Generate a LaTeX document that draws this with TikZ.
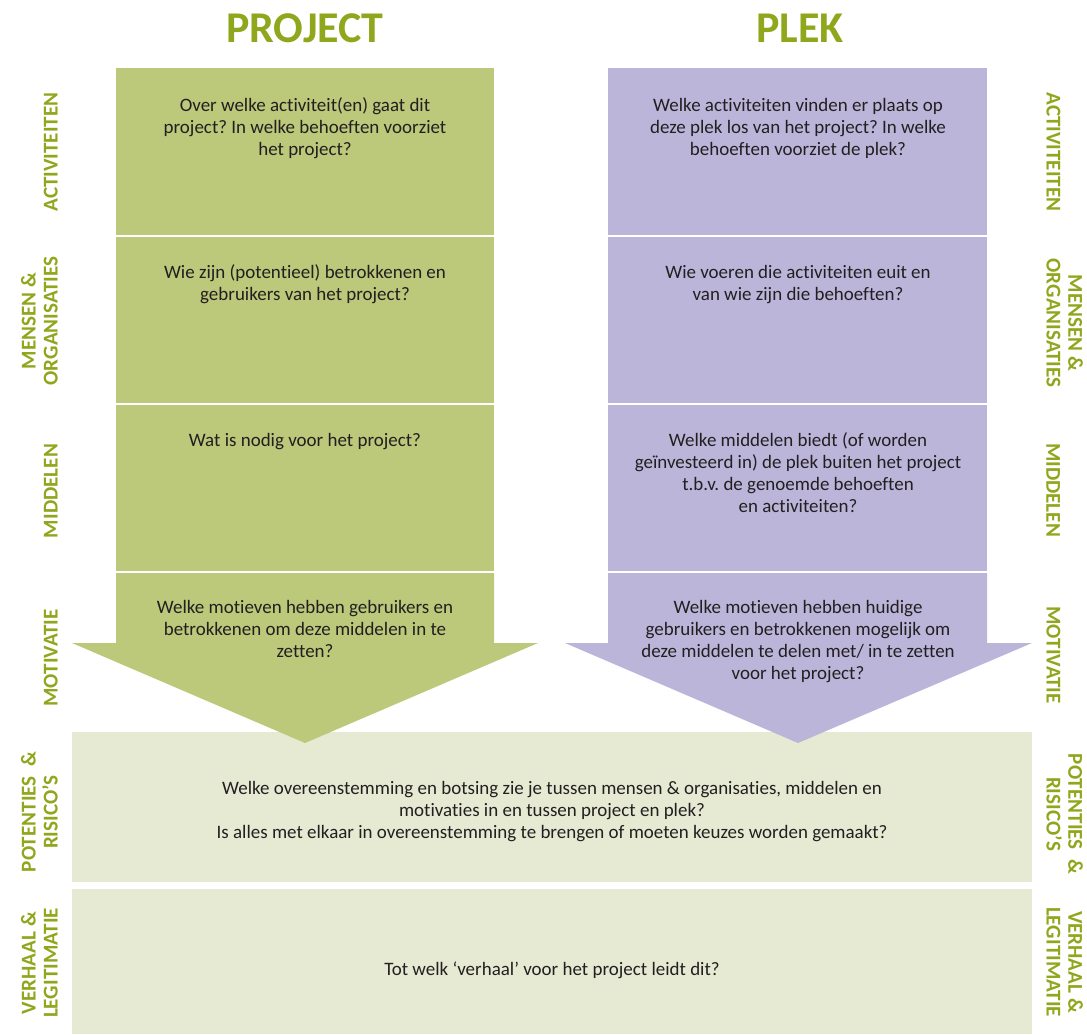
\documentclass[tikz,border=0pt]{standalone}
\usepackage{fontspec}
\setmainfont{Carlito}[Ligatures=NoCommon]
\frenchspacing
\definecolor{titlec}{HTML}{8FA71C}
\definecolor{greenc}{HTML}{BCC87A}
\definecolor{purplec}{HTML}{BBB5DA}
\definecolor{barc}{HTML}{E6EAD3}
\definecolor{textc}{HTML}{231F20}
\tikzset{
  qtext/.style={font=\fontsize{10.8}{12.5}\selectfont, align=center, text=textc, inner sep=0pt, anchor=base},
  lab/.style={font=\bfseries\fontsize{12}{12.5}\selectfont, align=center, text=titlec, inner sep=0pt, anchor=south},
  ttl/.style={font=\bfseries\fontsize{25}{28}\selectfont, text=titlec, inner sep=0pt, anchor=base},
}
\begin{document}
\begin{tikzpicture}[x=0.02cm,y=-0.02cm]
\useasboundingbox (0,0) rectangle (1087,1034);
% bottom bars
\fill[barc] (72,732) rectangle (1032,882);
\fill[barc] (72,889) rectangle (1032,1034);
% project column
\fill[greenc] (116,68) rectangle (494,235);
\fill[greenc] (116,237) rectangle (494,403);
\fill[greenc] (116,405) rectangle (494,571);
\fill[greenc] (116,573) -- (494,573) -- (494,643) -- (538,643) -- (305,743) -- (72,643) -- (116,643) -- cycle;
% plek column
\fill[purplec] (608,68) rectangle (987,235);
\fill[purplec] (608,237) rectangle (987,403);
\fill[purplec] (608,405) rectangle (987,571);
\fill[purplec] (608,573) -- (987,573) -- (987,643) -- (1032,643) -- (798,743) -- (565,643) -- (608,643) -- cycle;
% titles
\node[ttl] (tproj) at (305,43) {PROJECT};
\node[ttl] (tplek) at (800,43) {PLEK};
% project texts (anchor = baseline of last line)
\node[qtext] (p1) at (305,155) {Over welke activiteit(en) gaat dit\\project? In welke behoeften voorziet\\het project?};
\node[qtext] (p2) at (305,300) {Wie zijn (potentieel) betrokkenen en\\gebruikers van het project?};
\node[qtext] (p3) at (305,446) {Wat is nodig voor het project?};
\node[qtext] (p4) at (305,657) {Welke motieven hebben gebruikers en\\betrokkenen om deze middelen in te\\zetten?};
% plek texts
\node[qtext] (q1) at (798,155) {Welke activiteiten vinden er plaats op\\deze plek los van het project? In welke\\behoeften voorziet de plek?};
\node[qtext] (q2) at (798,300) {Wie voeren die activiteiten euit en\\van wie zijn die behoeften?};
\node[qtext] (q3) at (798,512) {Welke middelen biedt (of worden\\geïnvesteerd in) de plek buiten het project\\t.b.v. de genoemde behoeften\\en activiteiten?};
\node[qtext] (q4) at (798,679) {Welke motieven hebben huidige\\gebruikers en betrokkenen mogelijk om\\deze middelen te delen met/ in te zetten\\voor het project?};
% bar texts
\node[qtext] (b1) at (552,838) {Welke overeenstemming en botsing zie je tussen mensen \& organisaties, middelen en\\motivaties in en tussen project en plek?\\Is alles met elkaar in overeenstemming te brengen of moeten keuzes worden gemaakt?};
\node[qtext] (b2) at (552,975) {Tot welk ‘verhaal’ voor het project leidt dit?};
% left labels
\node[lab, rotate=90] (l1) at (58,152) {ACTIVITEITEN};
\node[lab, rotate=90] (l2) at (58,321) {MENSEN \&\\ORGANISATIES};
\node[lab, rotate=90] (l3) at (58,491) {MIDDELEN};
\node[lab, rotate=90] (l4) at (58,658) {MOTIVATIE};
\node[lab, rotate=90] (l5) at (58,812) {POTENTIES \ \&\\RISICO’S};
\node[lab, rotate=90] (l6) at (58,963) {VERHAAL \&\\LEGITIMATIE};
% right labels
\node[lab, rotate=-90] (r1) at (1046,152) {ACTIVITEITEN};
\node[lab, rotate=-90] (r2) at (1046,323) {MENSEN \&\\ORGANISATIES};
\node[lab, rotate=-90] (r3) at (1046,490) {MIDDELEN};
\node[lab, rotate=-90] (r4) at (1046,655) {MOTIVATIE};
\node[lab, rotate=-90] (r5) at (1046,814) {POTENTIES \ \&\\RISICO’S};
\node[lab, rotate=-90] (r6) at (1046,962) {VERHAAL \&\\LEGITIMATIE};
\end{tikzpicture}
\end{document}
